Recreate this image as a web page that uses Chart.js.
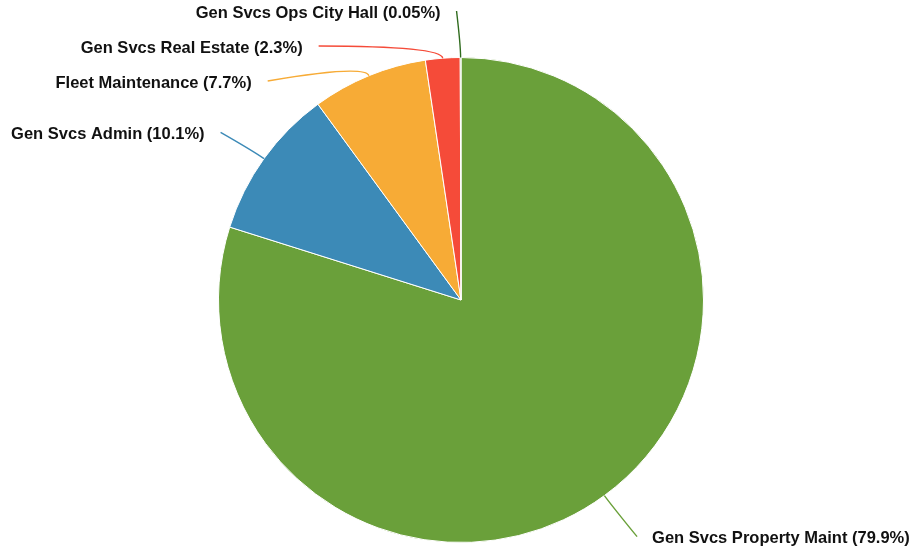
<!doctype html>
<html>

<head>
	<title>Gen Svcs Budget Share</title>
	<script src="https://cdn.jsdelivr.net/npm/chart.js@4/dist/chart.umd.min.js"></script>
	<style>
		html, body {
			margin: 0;
			padding: 0;
			background: #fff;
		}
		.chart-container {
			width: 917px;
			height: 552px;
		}
	</style>
</head>

<body>
	<div class="chart-container"><canvas id="chart"></canvas></div>
	<script>
		var categories = ['Gen Svcs Property Maint', 'Gen Svcs Admin', 'Fleet Maintenance', 'Gen Svcs Real Estate', 'Gen Svcs Ops City Hall'];
		var shares = [79.9, 10.1, 7.7, 2.3, 0.05];
		var shareLabels = ['79.9%', '10.1%', '7.7%', '2.3%', '0.05%'];
		var sliceColors = ['#6aa03a', '#3c8ab7', '#f7ab36', '#f54b39', '#2f6b1d'];

		// labels sit on a ring outside the pie, pushed apart vertically, with curved leaders
		var pieLabels = {
			id: 'pieLabels',
			afterDatasetsDraw: function(chart) {
				var ctx = chart.ctx;
				var arcs = chart.getDatasetMeta(0).data;
				var items = arcs.map(function(arc, i) {
					var mid = (arc.startAngle + arc.endAngle) / 2;
					var r = arc.outerRadius;
					var R = r * 1.2;
					return {
						i: i, arc: arc, mid: mid, r: r, R: R,
						left: Math.cos(mid) < 0,
						y: arc.y + R * Math.sin(mid)
					};
				});
				[true, false].forEach(function(side) {
					var group = items.filter(function(d) { return d.left === side; })
						.sort(function(a, b) { return a.y - b.y; });
					for (var k = 1; k < group.length; k++) {
						if (group[k].y < group[k - 1].y + 35) group[k].y = group[k - 1].y + 35;
					}
				});
				ctx.save();
				ctx.font = 'bold 16.5px "Liberation Sans", Arial, Helvetica, sans-serif';
				ctx.textBaseline = 'middle';
				items.forEach(function(d) {
					var a = d.arc;
					var dy = d.y - a.y;
					var dx = Math.sqrt(Math.max(d.R * d.R - dy * dy, 0)) + 4;
					var ax = a.x + (d.left ? -dx : dx);
					var ex = a.x + d.r * Math.cos(d.mid), ey = a.y + d.r * Math.sin(d.mid);
					var cx = a.x + (d.r + 12) * Math.cos(d.mid), cy = a.y + (d.r + 12) * Math.sin(d.mid);
					ctx.strokeStyle = sliceColors[d.i];
					ctx.lineWidth = 1.4;
					ctx.beginPath();
					ctx.moveTo(ex, ey);
					ctx.quadraticCurveTo(cx, cy, ax, d.y + 2);
					ctx.stroke();
					ctx.fillStyle = '#111';
					ctx.textAlign = d.left ? 'right' : 'left';
					ctx.fillText(categories[d.i] + ' (' + shareLabels[d.i] + ')', ax + (d.left ? -16 : 15), d.y + 4);
				});
				ctx.restore();
			}
		};

		window.onload = function() {
			var ctx = document.getElementById('chart').getContext('2d');
			new Chart(ctx, {
				type: 'pie',
				data: {
					labels: categories,
					datasets: [{
						data: shares,
						backgroundColor: sliceColors,
						borderColor: '#ffffff',
						borderWidth: 1
					}]
				},
				options: {
					responsive: true,
					maintainAspectRatio: false,
					animation: false,
					layout: {
						padding: { top: 57, bottom: 9, left: 218, right: 213 }
					},
					plugins: {
						legend: { display: false },
						tooltip: { enabled: false }
					}
				},
				plugins: [pieLabels]
			});
		};
	</script>
</body>

</html>
